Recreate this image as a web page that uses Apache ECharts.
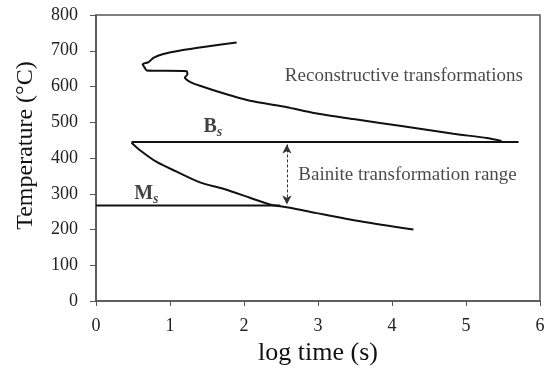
<!DOCTYPE html>
<html>
<head>
<meta charset="utf-8">
<script src="https://cdn.jsdelivr.net/npm/echarts@6/dist/echarts.min.js"></script>
<style>
  html, body { margin: 0; padding: 0; background: #fff; }
  #chart { width: 550px; height: 371px; }
</style>
</head>
<body>
<div id="chart"></div>
<script>
// 上方 C 曲线（重构型转变），按绘制顺序
const upperLogT = [1.9, 1.5, 1.14, 0.91, 0.775, 0.71, 0.63, 0.66, 0.685, 1.225, 1.235, 1.2, 1.27, 1.405, 1.72, 2.08, 2.58, 2.94, 3.48, 4.15, 4.83, 5.28, 5.48];
const upperTemp = [723, 712, 701, 691, 680, 668, 662, 652, 645, 643, 634, 625, 613, 602, 581, 560, 542, 526, 509, 489, 468, 456, 448];

// 下方曲线（贝氏体）
const lowerLogT = [0.48, 0.595, 0.82, 1.09, 1.405, 1.72, 2.08, 2.35, 2.62, 2.98, 3.57, 4.29];
const lowerTemp = [443, 422, 389, 362, 332, 314, 289, 270, 261, 246, 223, 200];

// Bs / Ms 水平线
const bsLogT = [0.48, 5.71];
const bsTemp = 445;
const msLogT = [0, 2.49];
const msTemp = 267;

// 双向虚线箭头
const arrowLogT = 2.58;
const arrowTemp = [438, 270];

// 文字标注 [logT, temp]
const bsLabelAt = [1.58, 488];
const msLabelAt = [0.68, 299];
const reconAt = [4.16, 629];
const bainiteAt = [4.21, 352];

const AXIS = "#555";
const FONT = "Liberation Serif";

const toPairs = (xs, ys) => xs.map((x, i) => [x, Array.isArray(ys) ? ys[i] : ys]);

const chart = echarts.init(document.getElementById("chart"), null, { renderer: "canvas" });

const labelSeries = (at, text, rich) => ({
  type: "scatter",
  data: [at],
  symbolSize: 0,
  silent: true,
  label: {
    show: true,
    position: "inside",
    formatter: text,
    color: "#1a1a1a",
    fontFamily: FONT,
    fontSize: 19,
    rich: rich,
  },
});

const subRich = {
  big: { fontFamily: FONT, fontWeight: "bold", fontSize: 20, color: "#111" },
  sub: { fontFamily: FONT, fontWeight: "bold", fontStyle: "italic", fontSize: 14, color: "#111", padding: [11, 0, 0, 0] },
};

chart.setOption({
  animation: false,
  grid: {
    left: 96, right: 10, top: 15, bottom: 67,
    show: true, borderColor: AXIS, borderWidth: 1.5, backgroundColor: "transparent",
  },
  xAxis: {
    type: "value", min: 0, max: 6, interval: 1,
    name: "log time (s)", nameLocation: "middle", nameGap: 35,
    nameTextStyle: { fontFamily: FONT, fontSize: 26, color: "#111" },
    axisLine: { show: true, onZero: false, lineStyle: { color: AXIS, width: 1.5 } },
    axisTick: { show: true, length: 5, lineStyle: { color: AXIS } },
    axisLabel: { fontFamily: FONT, fontSize: 18, color: "#222", margin: 16 },
    splitLine: { show: false },
  },
  yAxis: {
    type: "value", min: 0, max: 800, interval: 100,
    name: "Temperature (°C)", nameLocation: "middle", nameGap: 58,
    nameTextStyle: { fontFamily: FONT, fontSize: 24, color: "#111", padding: [0, 0, 0, 25] },
    axisLine: { show: true, lineStyle: { color: AXIS, width: 1.5 } },
    axisTick: { show: true, length: 6, lineStyle: { color: AXIS } },
    axisLabel: { fontFamily: FONT, fontSize: 18, color: "#222", margin: 18 },
    splitLine: { show: false },
  },
  series: [
    {
      type: "line", data: toPairs(upperLogT, upperTemp), showSymbol: false, smooth: 0.2,
      lineStyle: { color: "#111", width: 2 },
    },
    {
      type: "line", data: toPairs(lowerLogT, lowerTemp), showSymbol: false, smooth: 0.3,
      lineStyle: { color: "#111", width: 2 },
    },
    {
      type: "line", data: toPairs(bsLogT, bsTemp), showSymbol: false,
      lineStyle: { color: "#111", width: 2 },
    },
    {
      type: "line", data: toPairs(msLogT, msTemp), showSymbol: false,
      lineStyle: { color: "#111", width: 2 },
      markLine: {
        silent: true,
        symbol: ["arrow", "arrow"],
        symbolSize: [7, 9],
        label: { show: false },
        lineStyle: { color: "#333", type: [3, 2], width: 1 },
        data: [[{ coord: [arrowLogT, arrowTemp[0]] }, { coord: [arrowLogT, arrowTemp[1]] }]],
      },
    },
    labelSeries(bsLabelAt, "{big|B}{sub|s}", subRich),
    labelSeries(msLabelAt, "{big|M}{sub|s}", subRich),
    labelSeries(reconAt, "Reconstructive transformations"),
    labelSeries(bainiteAt, "Bainite transformation range"),
  ],
});
</script>
</body>
</html>
